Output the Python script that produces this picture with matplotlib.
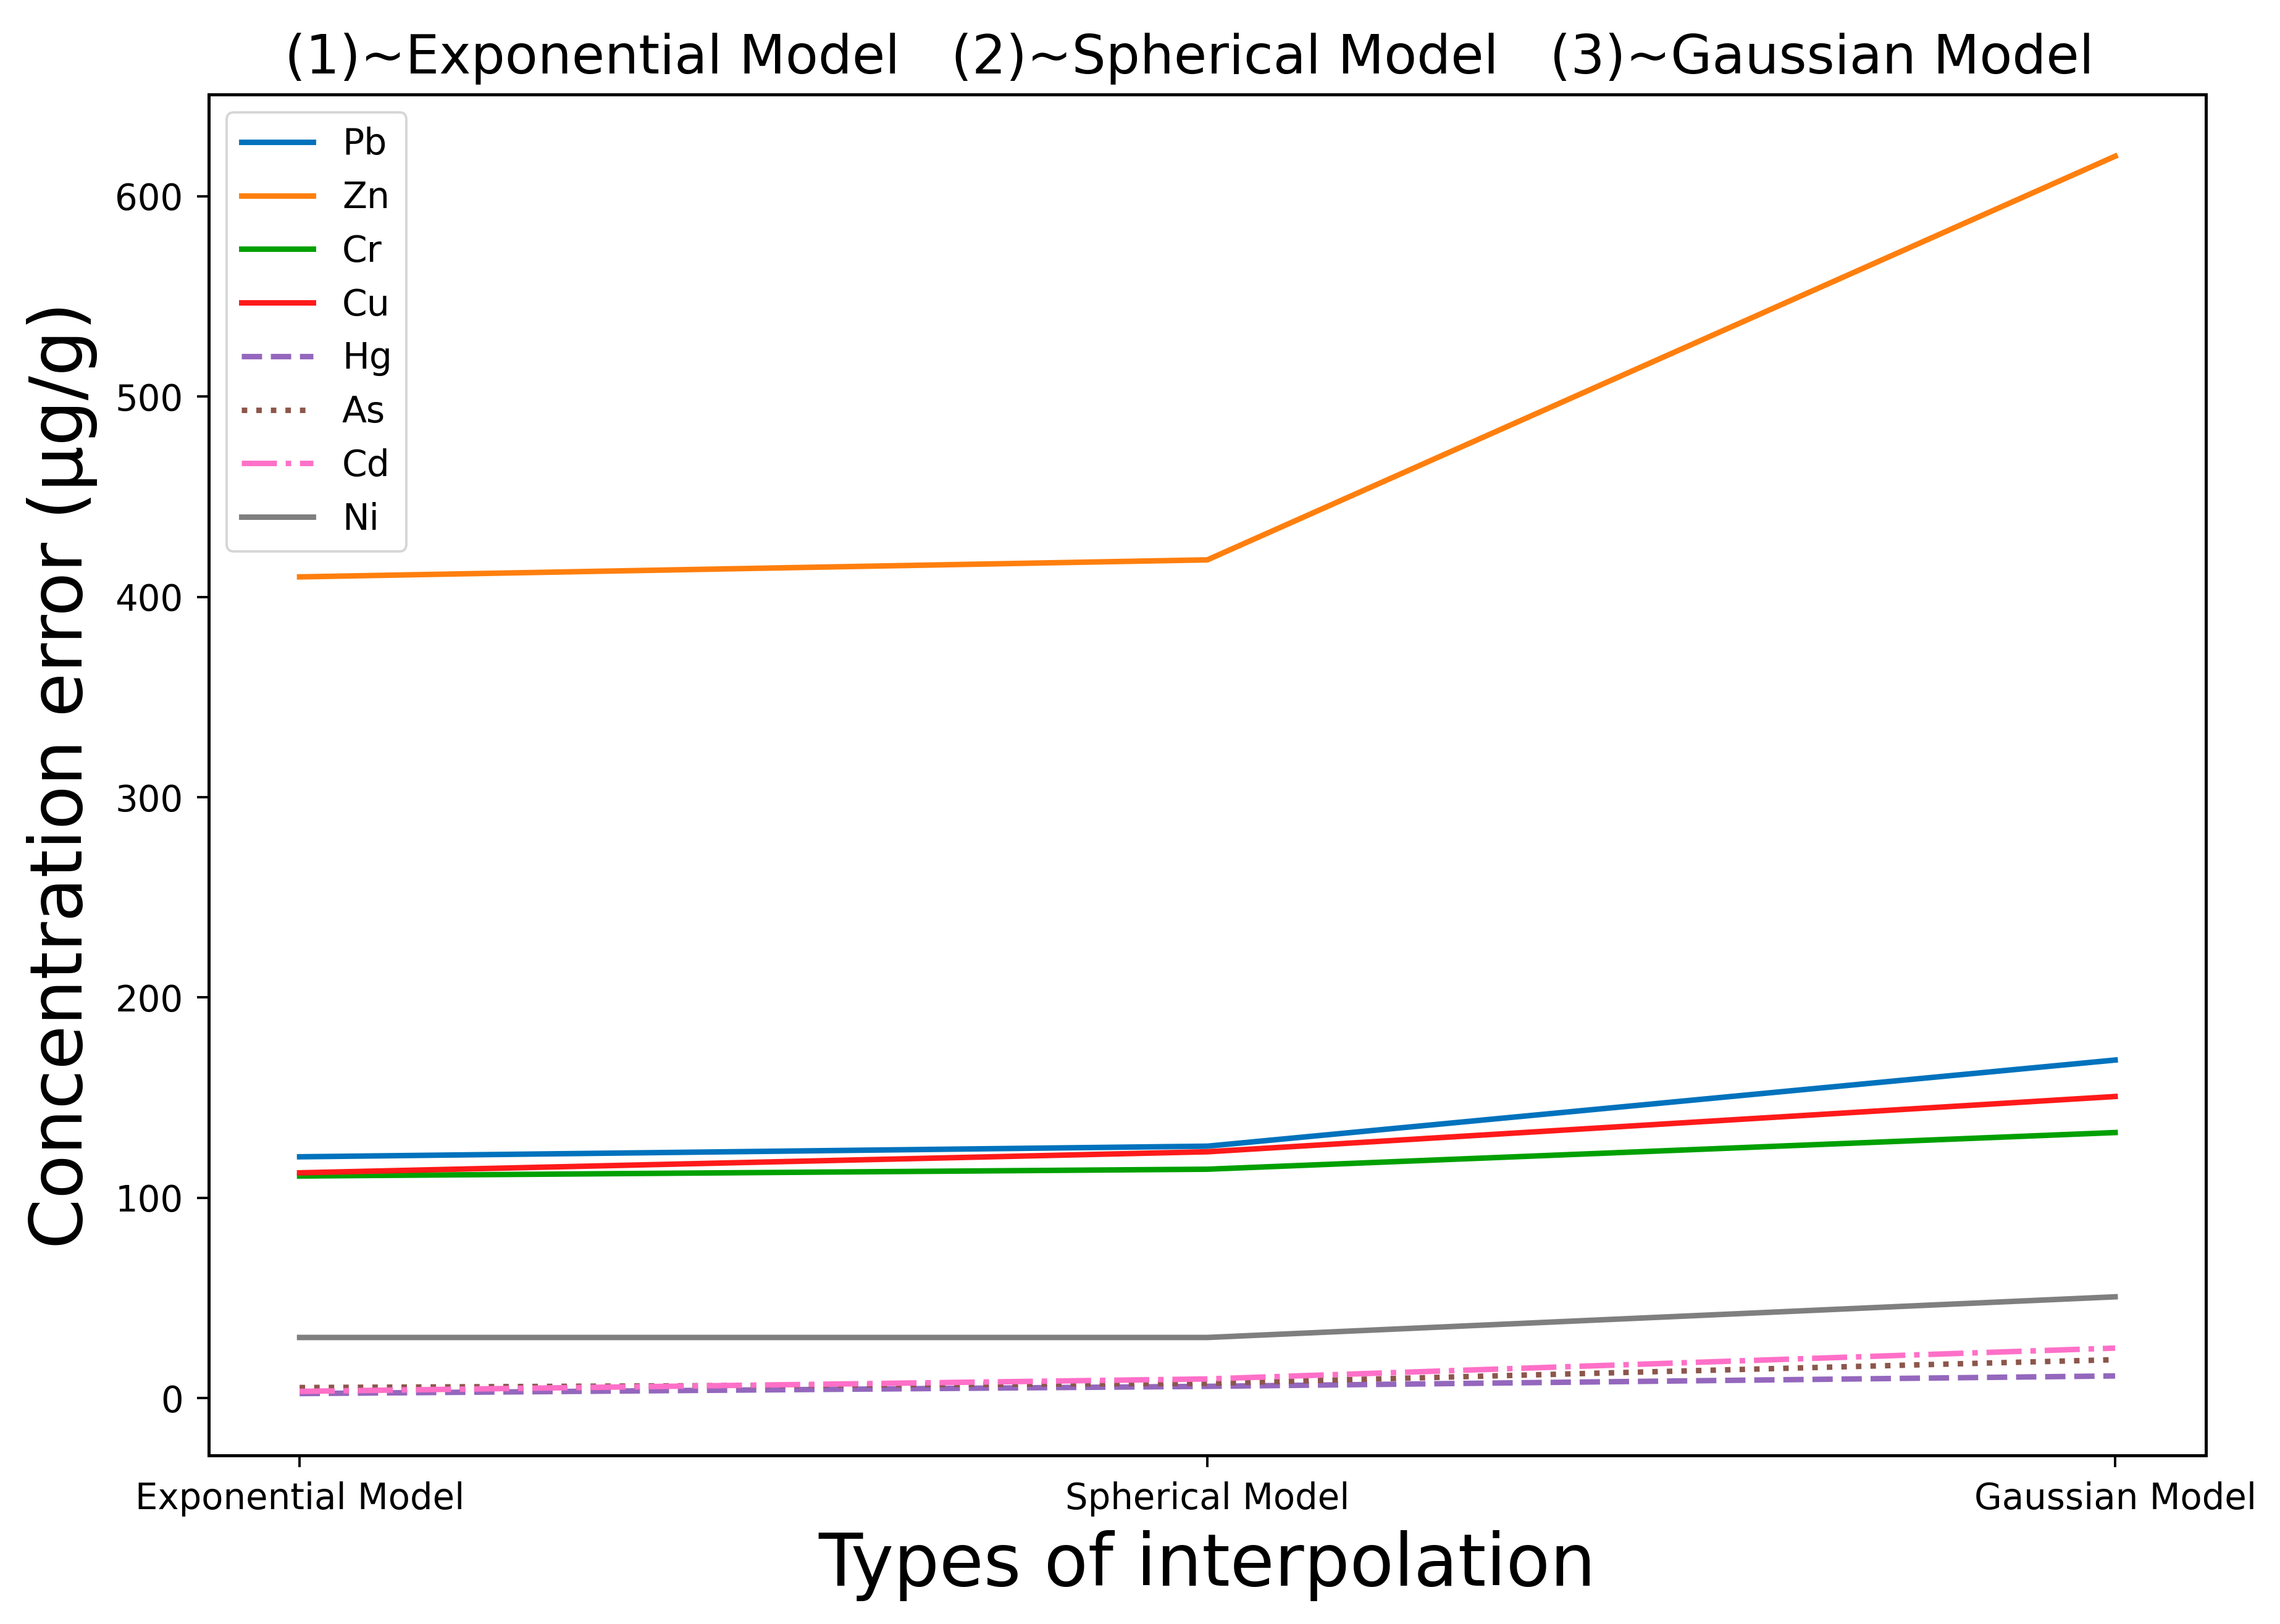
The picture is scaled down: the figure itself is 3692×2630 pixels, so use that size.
import matplotlib
matplotlib.use("Agg")
import matplotlib.pyplot as plt

categories = ["Exponential Model", "Spherical Model", "Gaussian Model"]
series_names = ["Pb", "Zn", "Cr", "Cu", "Hg", "As", "Cd", "Ni"]
Pb = [120.5, 125.8, 168.8]
Zn = [410.0, 418.5, 620.0]
Cr = [110.9, 114.3, 132.6]
Cu = [112.5, 123.0, 150.6]
Hg = [2.3, 5.9, 11.1]
As = [5.3, 7.4, 19.2]
Cd = [3.4, 9.6, 25.0]
Ni = [30.3, 30.3, 50.6]
values = [Pb, Zn, Cr, Cu, Hg, As, Cd, Ni]

colors = ["#0072bd", "#ff7f0e", "#00a000", "#ff1a1a", "#9467bd", "#8c564b", "#ff70c8", "#7f7f7f"]
styles = ["-", "-", "-", "-", "--", ":", "-.", "-"]

plt.rcParams['font.family'] = ['DejaVu Sans']
fig = plt.figure(figsize=(18.46, 13.15), dpi=200)
ax = fig.add_axes([0.0916, 0.1038, 0.8759, 0.8381])

x = list(range(len(categories)))
for name, vals, c, ls in zip(series_names, values, colors, styles):
    ax.plot(x, vals, color=c, linestyle=ls, linewidth=3.2, label=name)

ax.set_xticks(x)
ax.set_xticklabels(categories, fontsize=20.8)
ax.tick_params(axis='y', labelsize=20.8)
ax.tick_params(length=7, width=1.4, pad=8)
for s in ax.spines.values():
    s.set_linewidth(1.8)

ax.set_xlabel("Types of interpolation", fontsize=42, labelpad=8)
ax.set_ylabel("Concentration error (μg/g)", fontsize=42, labelpad=10)
ax.set_title("(1)~Exponential Model   (2)~Spherical Model   (3)~Gaussian Model",
             fontsize=31.25, pad=12, x=0.491)

leg = ax.legend(loc="upper left", fontsize=21, handlelength=2.0, labelspacing=0.51)
leg.get_frame().set_linewidth(1.4)

fig.savefig("out.png", dpi=200)
